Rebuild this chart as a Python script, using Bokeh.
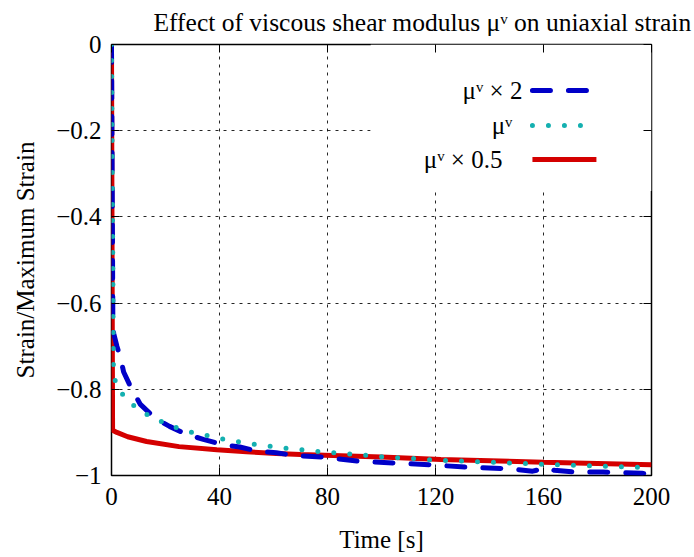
from bokeh.plotting import figure
from bokeh.models import (LinearAxis, FixedTicker, CustomJSTickFormatter, BoxAnnotation,
                          Label, Arrow, Range1d)
from bokeh.embed import file_html
from bokeh.resources import INLINE

# ---------------- data ----------------
t_x2 = [0, 0.5, 0.8, 2, 3.3, 4.5, 7.5, 10.7, 16.3, 21.5, 28, 34, 41, 47.5, 54.5, 61, 68,
        78, 91.6, 105, 118, 132, 146, 156, 161, 164, 172, 182, 196.5, 200]
y_x2 = [0, -0.64, -0.67, -0.70, -0.726, -0.76, -0.80, -0.835, -0.868, -0.886, -0.905, -0.916,
        -0.928, -0.934, -0.944, -0.947, -0.954, -0.957, -0.967, -0.971, -0.975, -0.981, -0.984,
        -0.990, -0.982, -0.988, -0.992, -0.992, -0.995, -0.996]

t_x1 = [0, 0.7, 0.85, 1.5, 4.8, 9.3, 14.4, 19.6, 25.3, 31.1, 36.7, 42.6, 48.4, 54.2, 60.1,
        66.3, 78, 89.8, 101.5, 113, 119.4, 160.7, 196.5, 200]
y_x1 = [0, -0.745, -0.752, -0.787, -0.818, -0.844, -0.863, -0.878, -0.892, -0.902, -0.909,
        -0.917, -0.923, -0.929, -0.933, -0.938, -0.945, -0.951, -0.957, -0.961, -0.964, -0.974,
        -0.981, -0.982]

t_x05 = [0, 0.4, 2, 6, 13, 25, 39, 50, 61, 70, 100, 122, 160, 200]
y_x05 = [0, -0.895, -0.900, -0.910, -0.921, -0.933, -0.940, -0.945, -0.949, -0.951, -0.957,
         -0.963, -0.969, -0.975]

x_ticks = [0, 40, 80, 120, 160, 200]
y_ticks = [-1, -0.8, -0.6, -0.4, -0.2, 0]
labels = ["μᵛ × 2", "μᵛ", "μᵛ × 0.5"]

title_text = "Effect of viscous shear modulus μᵛ on uniaxial strain"
x_label = "Time [s]"
y_label = "Strain/Maximum Strain"

FONT = "Liberation Serif"
FS = "25px"
C_BLUE = "#0000c8"
C_CYAN = "#14b0b0"
C_RED = "#d40000"

p = figure(width=694, height=557, x_range=Range1d(0, 200), y_range=Range1d(-1, 0),
           output_backend="svg", toolbar_location=None,
           min_border_left=111, min_border_right=43, min_border_top=44, min_border_bottom=82)

p.background_fill_color = "white"
p.border_fill_color = "white"
p.outline_line_color = "black"
p.outline_line_width = 1.5

p.title.text = title_text
p.title.text_font = FONT
p.title.text_font_size = "25.5px"
p.title.text_font_style = "normal"
p.title.text_color = "black"
p.title.align = "left"
p.title.offset = 42
p.title.standoff = 12
p.title.vertical_align = "top"

fmt = CustomJSTickFormatter(code="""
if (tick == 0) { return "0"; }
return (tick < 0 ? "\u2212" : "") + String(Math.abs(tick));
""")

bottom_ax = p.below[0]
left_ax = p.left[0]
right_ax = LinearAxis()
top_ax = LinearAxis()
p.add_layout(right_ax, "right")
p.add_layout(top_ax, "above")

for ax in (bottom_ax, top_ax):
    ax.ticker = FixedTicker(ticks=x_ticks)
for ax in (left_ax, right_ax):
    ax.ticker = FixedTicker(ticks=y_ticks)
    ax.formatter = fmt

for ax in (bottom_ax, top_ax, left_ax, right_ax):
    ax.axis_line_color = None
    ax.major_tick_in = 8
    ax.major_tick_out = 0
    ax.major_tick_line_color = "black"
    ax.major_tick_line_width = 1
    ax.minor_tick_line_color = None
    ax.major_label_text_font = FONT
    ax.major_label_text_font_size = FS
    ax.major_label_text_color = "black"
    ax.major_label_standoff = 10
    ax.axis_label_text_font = FONT
    ax.axis_label_text_font_size = FS
    ax.axis_label_text_font_style = "normal"
    ax.axis_label_text_color = "black"

for ax in (right_ax, top_ax):
    ax.major_label_text_font_size = "1px"
    ax.major_label_text_color = None
    ax.major_label_standoff = 0

bottom_ax.major_label_standoff = 12
bottom_ax.axis_label = x_label
left_ax.axis_label = y_label
bottom_ax.axis_label_standoff = 18
left_ax.axis_label_standoff = 14

p.xgrid.ticker = FixedTicker(ticks=x_ticks)
p.ygrid.ticker = FixedTicker(ticks=y_ticks)
for g in (p.xgrid, p.ygrid):
    g.grid_line_color = "black"
    g.grid_line_alpha = 0.85
    g.grid_line_width = 1
    g.grid_line_dash = "3 5"

# legend background box (covers grid)
box = BoxAnnotation(left=96, right=200, top=0, bottom=-0.34, fill_color="white", fill_alpha=1,
                    line_color=None, level="underlay")
p.add_layout(box)

# curves
p.line(t_x05, y_x05, line_color=C_RED, line_width=5)
p.line(t_x2, y_x2, line_color=C_BLUE, line_width=5, line_dash="18 18", line_cap="round")
p.line(t_x1, y_x1, line_color=C_CYAN, line_width=5, line_dash="0 16", line_cap="round")

# legend (label left of sample, like gnuplot)
rows_y = [-0.1067, -0.188, -0.267]
text_right = [152.2, 148.5, 144.8]
styles = [dict(line_color=C_BLUE, line_dash="18 18", line_cap="round"),
          dict(line_color=C_CYAN, line_dash="0 16", line_cap="round"),
          dict(line_color=C_RED, line_dash="solid", line_cap="butt")]
for lab, yy, xr, st in zip(labels, rows_y, text_right, styles):
    p.add_layout(Label(x=xr, y=yy, text=lab, text_align="right", text_baseline="middle",
                       text_font=FONT, text_font_size=FS, text_color="black"))
    p.add_layout(Arrow(end=None, start=None, x_start=155.9, y_start=yy, x_end=179.6, y_end=yy,
                       line_width=5, **st))

open("out.html", "w").write(file_html(p, INLINE))
